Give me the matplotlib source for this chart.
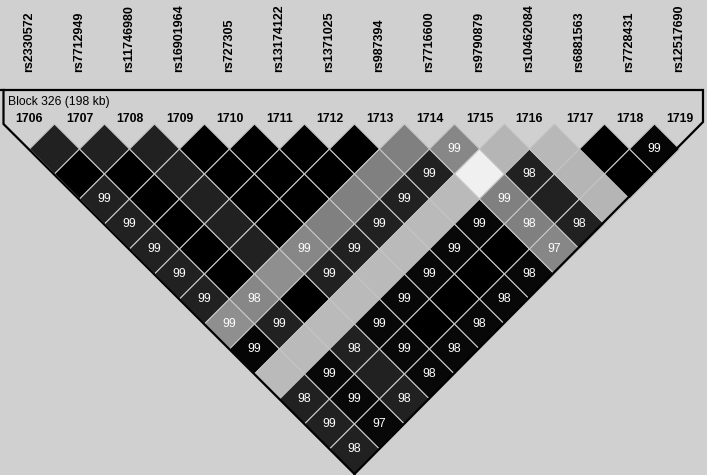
#!/usr/bin/env python3
""" Haploview style LD triangle for block 326.
"""
import matplotlib
matplotlib.use("Agg")
import matplotlib.pyplot as plt
from matplotlib.patches import Polygon

snps = ["rs2330572", "rs7712949", "rs11746980", "rs16901964", "rs727305",
        "rs13174122", "rs1371025", "rs987394", "rs7716600", "rs9790879",
        "rs10462084", "rs6881563", "rs7728431", "rs12517690"]
marker_ids = [1706, 1707, 1708, 1709, 1710, 1711, 1712,
              1713, 1714, 1715, 1716, 1717, 1718, 1719]
block_label = "Block 326 (198 kb)"

# r^2 (x100) per pair, row i holds pairs (i, i+1), (i, i+2) ... (i, last)
r2_rows = [
    [87, 100, 87, 87, 87, 87, 87, 44, 98, 27, 87, 87, 87],
    [87, 100, 100, 100, 100, 100, 47, 87, 27, 97, 97, 97],
    [87, 87, 87, 87, 87, 44, 100, 27, 87, 87, 87],
    [100, 100, 100, 100, 47, 87, 27, 97, 97, 97],
    [100, 100, 100, 50, 87, 27, 97, 100, 97],
    [100, 100, 50, 87, 27, 97, 100, 97],
    [100, 50, 87, 27, 97, 100, 97],
    [50, 87, 27, 97, 100, 97],
    [47, 6, 50, 50, 47],
    [29, 87, 87, 87],
    [28, 29, 29],
    [100, 100],
    [98],
]
# D' (x100), same layout; 100 is not printed
dprime_rows = [
    [100, 100, 99, 99, 99, 99, 99, 99, 99, 100, 98, 99, 98],
    [100, 100, 100, 100, 100, 100, 98, 99, 100, 99, 99, 97],
    [100, 100, 100, 100, 100, 100, 100, 100, 98, 100, 98],
    [100, 100, 100, 100, 99, 99, 100, 99, 99, 98],
    [100, 100, 100, 100, 99, 100, 99, 100, 98],
    [100, 100, 100, 99, 100, 99, 100, 98],
    [100, 100, 99, 100, 99, 100, 98],
    [100, 99, 100, 99, 100, 98],
    [99, 100, 99, 98, 97],
    [100, 98, 100, 98],
    [100, 100, 100],
    [100, 100],
    [99],
]

bg = "#d0d0d0"
fig = plt.figure(figsize=(7.07, 4.75), dpi=100, facecolor=bg)
ax = fig.add_axes([0, 0, 1, 1])
ax.set_xlim(0, 707)
ax.set_ylim(475, 0)
ax.axis("off")
ax.set_facecolor(bg)

x0, step, half = 29.5, 50.0, 25.0
top = 124.0
sx = [x0 + step * i for i in range(len(snps))]

for i, name in enumerate(snps):
    ax.text(sx[i], 72, name, rotation=90, ha="center", va="bottom",
            fontsize=9, fontweight="bold", family="Liberation Sans")
    ax.text(sx[i], 118.5, str(marker_ids[i]), ha="center", va="center",
            fontsize=8.8, fontweight="bold", family="Liberation Sans")

ax.text(7.5, 101.5, block_label, ha="left", va="center",
        fontsize=8.7, family="Liberation Sans")

for i, (r2s, dps) in enumerate(zip(r2_rows, dprime_rows)):
    for n, (r2, dp) in enumerate(zip(r2s, dps)):
        j = i + 1 + n
        cx = (sx[i] + sx[j]) / 2
        cy = top + half * (j - i)
        g = 1 - r2 / 100
        ax.add_patch(Polygon([(cx, cy - half), (cx + half, cy),
                              (cx, cy + half), (cx - half, cy)],
                             closed=True, facecolor=(g, g, g),
                             edgecolor="#c4c4c4", linewidth=0.8, zorder=2))
        if dp < 100:
            ax.text(cx, cy, str(dp), ha="center", va="center", color="white",
                    fontsize=8.8, family="Liberation Sans", zorder=3)

# block outline
n = len(snps) - 1
bottom = (sx[0] + sx[-1]) / 2, top + half * (n + 1)
ax.plot([0, 703, 703, bottom[0]], [90, 90, top - 2, bottom[1]],
        color="black", linewidth=1.6, zorder=4, solid_joinstyle="miter")
ax.plot([3.5, 3.5, bottom[0]], [90, top, bottom[1]],
        color="black", linewidth=1.6, zorder=4, solid_joinstyle="miter")

fig.savefig("out.png", dpi=100, facecolor=bg)
